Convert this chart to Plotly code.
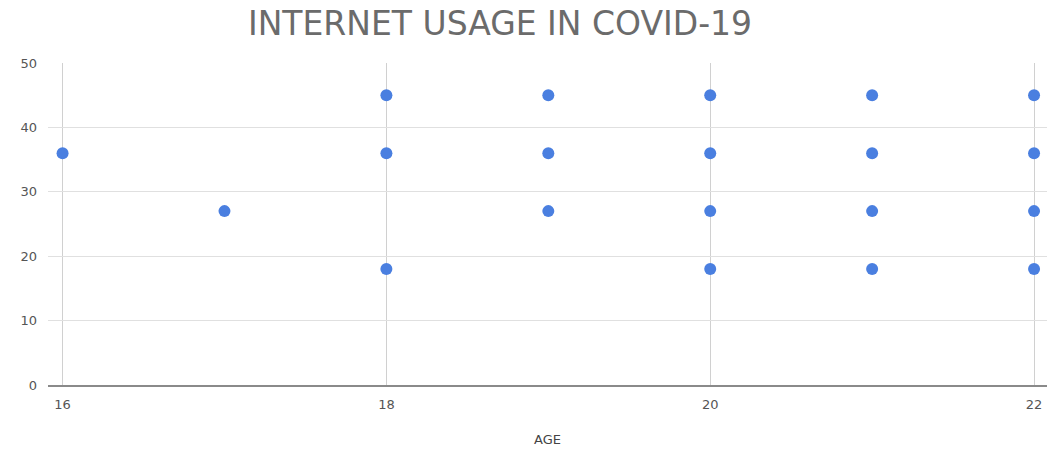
import plotly.graph_objects as go

ages = [16, 17, 18, 18, 18, 19, 19, 19, 20, 20, 20, 20, 21, 21, 21, 21, 22, 22, 22, 22]
usage = [36, 27, 45, 36, 18, 45, 36, 27, 45, 36, 27, 18, 45, 36, 27, 18, 45, 36, 27, 18]
x_ticks = [16, 18, 20, 22]
y_ticks = [0, 10, 20, 30, 40, 50]

W, H = 1059, 454

fig = go.Figure()
fig.add_trace(go.Scatter(
    x=ages, y=usage, mode="markers",
    marker=dict(size=12, color="#4a7fe0", line=dict(width=0)),
    showlegend=False,
))

fig.update_layout(
    width=W, height=H,
    margin=dict(l=48, r=12, t=63, b=69, autoexpand=False),
    paper_bgcolor="white", plot_bgcolor="white",
    title=dict(text="INTERNET USAGE IN COVID-19", x=500/W, xanchor="center",
               y=1 - 23/H, yanchor="middle",
               font=dict(family="DejaVu Sans", size=33, color="#6b6b6b")),
    font=dict(family="DejaVu Sans", color="#555"),
)
fig.update_xaxes(
    range=[15.91, 22.08], tickvals=x_ticks, ticktext=[str(t) for t in x_ticks],
    showgrid=True, gridcolor="#d0d0d0", gridwidth=1, zeroline=False,
    showline=True, linecolor="#8a8a8a", linewidth=2, automargin=False,
    tickfont=dict(size=13, color="#555"), ticks="", ticklabelstandoff=6,
    title=dict(text="AGE", font=dict(size=13, color="#444"), standoff=24),
)
fig.update_yaxes(
    range=[0, 50], tickvals=y_ticks, automargin=False,
    showgrid=True, gridcolor="#e0e0e0", gridwidth=1, zeroline=False,
    showline=False, tickfont=dict(size=13, color="#555"), ticks="", ticklabelstandoff=10,
)

fig.write_html("out.html", config={"displayModeBar": False},
               post_script="document.body.style.margin='0px';")
